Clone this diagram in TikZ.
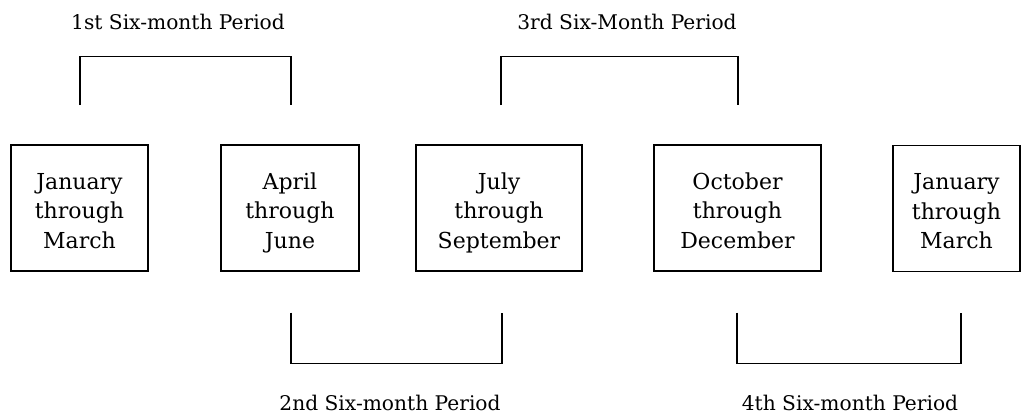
\documentclass[tikz,border=0pt]{standalone}
\usepackage{fontspec}
\setmainfont{DejaVu Serif}
\usetikzlibrary{calc}
\newcommand{\topstrut}{\rule{0pt}{30.5pt}}
\begin{document}
\begin{tikzpicture}[x=1pt,y=-1pt,
  monthbox/.style={draw, line width=1.5pt, minimum height=126pt, inner sep=0pt,
    align=center, font=\fontsize{22}{29.5}\selectfont},
  bracket/.style={draw, line width=1.4pt},
  period/.style={font=\fontsize{20.2}{22}\selectfont, inner sep=0pt}]
\useasboundingbox (0,0) rectangle (1021,414);
\node[monthbox, minimum width=137pt] (b1) at (79.5,208) {\topstrut January\\through\\March\strut};
\node[monthbox, minimum width=138pt] (b2) at (290,208) {\topstrut April\\through\\June\strut};
\node[monthbox, minimum width=166pt] (b3) at (499,208) {\topstrut July\\through\\September\strut};
\node[monthbox, minimum width=167pt] (b4) at (737.5,208) {\topstrut October\\through\\December\strut};
\node[monthbox, minimum width=127pt] (b5) at (956.5,208.5) {\topstrut January\\through\\March\strut};
% top brackets
\draw[bracket] ($(b1.north)+(0.5,-39)$) -- ++(0,-49) coordinate (t1) -| ($(b2.north)+(1,-39)$);
\draw[bracket] ($(b3.north)+(2,-39)$) -- ++(0,-49) coordinate (t3) -| ($(b4.north)+(0.5,-39)$);
% bottom brackets
\draw[bracket] ($(b2.south)+(1,41)$) -- ++(0,51) coordinate (s2) -| ($(b3.south)+(3,41)$);
\draw[bracket] ($(b4.south)+(-0.5,41)$) -- ++(0,51) coordinate (s4) -| ($(b5.south)+(4.5,41)$);
% labels
\node[period] (l1) at (178,22) {1st Six-month Period};
\node[period] (l3) at (627,22) {3rd Six-Month Period};
\node[period] (l2) at (390,403) {2nd Six-month Period};
\node[period] (l4) at (850,403) {4th Six-month Period};
\end{tikzpicture}
\end{document}
